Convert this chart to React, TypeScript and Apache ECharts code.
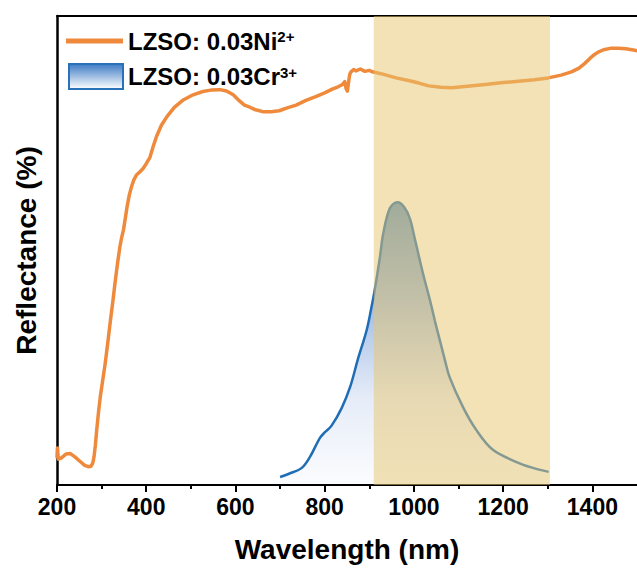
import React, { useEffect, useRef } from 'react';
import * as echarts from 'echarts';

// Ni2+ diffuse reflectance spectrum (wavelength nm, reflectance %)
const niWavelength = [200, 201, 203, 210, 220, 230, 240, 252, 262, 270, 276, 280, 283, 286, 289, 293, 297, 302, 308, 314, 319, 325, 330, 336, 341, 345, 349, 353, 357, 362, 367, 372, 378, 386, 393, 400, 408, 415, 423, 434, 446, 463, 483, 505, 527, 545, 565, 580, 595, 609, 620, 631, 645, 661, 680, 698, 716, 736, 758, 780, 800, 817, 830, 840, 845, 848, 851, 853, 856, 859, 865, 870, 880, 890, 900, 907, 930, 960, 990, 1011, 1033, 1060, 1085, 1120, 1160, 1200, 1234, 1270, 1301, 1330, 1353, 1370, 1383, 1395, 1405, 1413, 1425, 1440, 1458, 1475, 1495, 1500];
const niReflectance = [6.0, 7.9, 5.5, 5.8, 6.6, 6.7, 6.0, 5.0, 4.2, 3.9, 4.0, 4.6, 6.0, 8.5, 11.7, 15.5, 18.8, 22.0, 25.9, 30.5, 34.5, 39.0, 43.0, 47.5, 50.8, 52.8, 54.4, 56.8, 59.3, 61.8, 63.6, 65.0, 66.1, 66.8, 67.5, 68.5, 69.8, 72.0, 74.3, 76.7, 78.5, 80.5, 82.1, 83.2, 83.9, 84.2, 84.3, 84.0, 83.2, 81.9, 81.0, 80.6, 80.0, 79.6, 79.6, 79.8, 80.4, 81.0, 82.0, 82.8, 83.6, 84.4, 84.9, 85.4, 86.0, 84.5, 84.0, 85.5, 87.5, 88.1, 88.6, 88.3, 88.7, 88.2, 88.4, 88.1, 87.6, 86.8, 86.2, 85.7, 85.1, 84.8, 84.7, 85.0, 85.4, 85.8, 86.1, 86.4, 86.8, 87.4, 88.1, 88.9, 89.9, 91.0, 91.8, 92.3, 92.8, 93.1, 93.1, 93.0, 92.7, 92.6];

// Cr3+ emission spectrum (wavelength nm, relative intensity on same scale)
const crWavelength = [700, 720, 748, 767, 789, 800, 815, 838, 857, 874, 894, 905, 911, 924, 931, 946, 963, 978, 991, 1002, 1013, 1024, 1036, 1047, 1058, 1069, 1080, 1110, 1140, 1177, 1230, 1265, 1302];
const crIntensity = [1.7, 2.4, 3.6, 6.0, 10.0, 11.2, 12.6, 16.4, 20.9, 26.7, 33.0, 38.0, 41.0, 48.7, 53.5, 59.0, 60.3, 59.3, 56.8, 52.5, 48.0, 43.7, 39.4, 35.0, 30.9, 26.8, 23.0, 16.6, 11.7, 7.5, 4.9, 3.7, 2.8];

// highlighted NIR window (nm)
const bandRange = [910, 1305];

const xMajorTicks = [200, 400, 600, 800, 1000, 1200, 1400];
const xMinorTicks = [300, 500, 700, 900, 1100, 1300];

const seriesNames = ['LZSO: 0.03Ni2+', 'LZSO: 0.03Cr3+'];

const FONT = "'Liberation Sans', Arial, Helvetica, sans-serif";
const ORANGE = '#ef8a3c';
const BLUE = '#1f6db5';

export default function App() {
  const ref = useRef<HTMLDivElement>(null);

  useEffect(() => {
    if (!ref.current) return;
    const chart = echarts.init(ref.current, null, { renderer: 'svg' });

    const niData = niWavelength.map((w, i) => [w, niReflectance[i]]);
    const crData = crWavelength.map((w, i) => [w, crIntensity[i]]);

    const legendText = {
      fontFamily: FONT,
      fontWeight: 'bold' as const,
      fontSize: 24,
      color: '#000',
      rich: {
        sup: {
          fontFamily: FONT,
          fontWeight: 'bold' as const,
          fontSize: 15,
          color: '#000',
          verticalAlign: 'top' as const,
        },
      },
    };
    const legendFormatter = (name: string) => name.replace(/(\d\+)$/, '{sup|$1}');

    const option: any = {
      animation: false,
      backgroundColor: '#fff',
      grid: { left: 57, right: -1, top: 16, bottom: 92, containLabel: false },
      legend: [
        {
          data: [{ name: seriesNames[0], icon: 'rect', itemStyle: { color: ORANGE } }],
          orient: 'vertical',
          left: 61,
          top: 24,
          itemWidth: 57,
          itemHeight: 5,
          selectedMode: false,
          textStyle: legendText,
          formatter: legendFormatter,
        },
        {
          data: [
            {
              name: seriesNames[1],
              icon: 'rect',
              itemStyle: {
                color: new echarts.graphic.LinearGradient(0, 0, 0, 1, [
                  { offset: 0, color: '#3e7cc4' },
                  { offset: 1, color: '#ffffff' },
                ]),
                borderColor: '#2a72b8',
                borderWidth: 2,
              },
            },
          ],
          orient: 'vertical',
          left: 63,
          top: 58,
          itemWidth: 54,
          itemHeight: 25,
          selectedMode: false,
          textStyle: legendText,
          formatter: legendFormatter,
        },
      ],
      xAxis: [
        {
          type: 'value',
          min: 200,
          max: 1500,
          interval: 200,
          position: 'bottom',
          name: 'Wavelength (nm)',
          nameLocation: 'middle',
          nameGap: 50,
          nameTextStyle: { fontFamily: FONT, fontWeight: 'bold', fontSize: 28, color: '#000' },
          axisLine: { show: true, onZero: false, lineStyle: { color: '#000', width: 2 } },
          axisTick: { show: true, inside: false, length: 7, customValues: xMajorTicks, lineStyle: { color: '#000', width: 2 } },
          axisLabel: {
            customValues: xMajorTicks,
            color: '#000',
            fontFamily: FONT,
            fontWeight: 'bold',
            fontSize: 23,
            margin: 10,
            formatter: (v: number) => (v === 1500 ? '' : String(v)),
          },
          splitLine: { show: false },
        },
        {
          type: 'value',
          min: 200,
          max: 1500,
          position: 'bottom',
          axisLine: { show: false, onZero: false },
          axisTick: { show: true, inside: false, length: 4, customValues: xMinorTicks, lineStyle: { color: '#000', width: 2 } },
          axisLabel: { show: false },
          splitLine: { show: false },
        },
        {
          type: 'value',
          min: 200,
          max: 1500,
          position: 'top',
          axisLine: { show: true, onZero: false, lineStyle: { color: '#000', width: 2 } },
          axisTick: { show: false },
          axisLabel: { show: false },
          splitLine: { show: false },
        },
      ],
      yAxis: {
        type: 'value',
        min: 0,
        max: 100,
        name: 'Reflectance (%)',
        nameLocation: 'middle',
        nameGap: 17,
        nameRotate: 90,
        nameTextStyle: { fontFamily: FONT, fontWeight: 'bold', fontSize: 28, color: '#000' },
        axisLine: { show: true, onZero: false, lineStyle: { color: '#000', width: 2.5 } },
        axisTick: { show: false },
        axisLabel: { show: false },
        splitLine: { show: false },
      },
      series: [
        {
          name: seriesNames[0],
          type: 'line',
          xAxisIndex: 0,
          yAxisIndex: 0,
          data: niData,
          symbol: 'none',
          showSymbol: false,
          smooth: false,
          lineStyle: { color: ORANGE, width: 3.5, join: 'round', cap: 'round' },
          itemStyle: { color: ORANGE },
          z: 2,
        },
        {
          name: seriesNames[1],
          type: 'line',
          xAxisIndex: 0,
          yAxisIndex: 0,
          data: crData,
          symbol: 'none',
          showSymbol: false,
          smooth: 0.35,
          lineStyle: { color: BLUE, width: 2.5 },
          itemStyle: { color: BLUE },
          areaStyle: {
            color: new echarts.graphic.LinearGradient(0, 0, 0, 1, [
              { offset: 0, color: 'rgba(20,100,175,1)' },
              { offset: 0.35, color: 'rgba(35,100,190,0.62)' },
              { offset: 0.7, color: 'rgba(60,110,200,0.18)' },
              { offset: 1, color: 'rgba(60,110,200,0.03)' },
            ]),
          },
          z: 3,
        },
        {
          name: 'band',
          type: 'custom',
          xAxisIndex: 0,
          yAxisIndex: 0,
          silent: true,
          z: 10,
          data: [[bandRange[0], bandRange[1]]],
          encode: { x: [0, 1] },
          renderItem: (_params: any, api: any) => {
            const p1 = api.coord([api.value(0), 100]);
            const p2 = api.coord([api.value(1), 0]);
            return {
              type: 'rect',
              shape: { x: p1[0], y: p1[1], width: p2[0] - p1[0], height: p2[1] - p1[1] },
              style: { fill: 'rgba(231,197,109,0.5)' },
            };
          },
        },
      ],
    };

    chart.setOption(option);
    return () => chart.dispose();
  }, []);

  return (
    <div
      ref={ref}
      style={{ position: 'fixed', left: 0, top: 0, width: 637, height: 577, background: '#fff' }}
    />
  );
}
